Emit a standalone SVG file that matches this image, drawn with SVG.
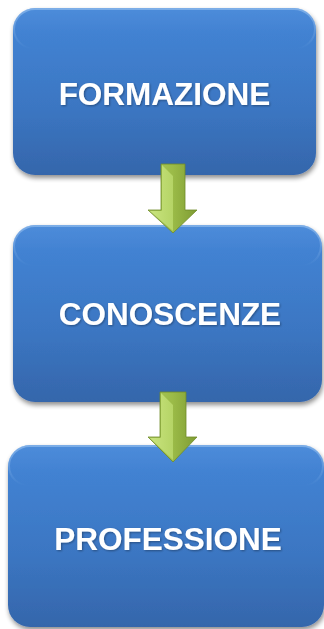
<svg xmlns="http://www.w3.org/2000/svg" width="324" height="629" viewBox="0 0 324 629">
<defs>
<linearGradient id="boxFill" x1="0" y1="0" x2="0" y2="1">
<stop offset="0" stop-color="#4d8cda"/>
<stop offset="0.15" stop-color="#4282d2"/>
<stop offset="0.6" stop-color="#3b76c2"/>
<stop offset="1" stop-color="#3566ab"/>
</linearGradient>
<linearGradient id="boxHi" x1="0" y1="0" x2="0" y2="1">
<stop offset="0" stop-color="#9cc4f0" stop-opacity="0.6"/>
<stop offset="1" stop-color="#9cc4f0" stop-opacity="0"/>
</linearGradient>
<linearGradient id="arrowFill" x1="0" y1="0" x2="1" y2="0">
<stop offset="0" stop-color="#a9c75a"/>
<stop offset="0.5" stop-color="#9bbb48"/>
<stop offset="1" stop-color="#7f9c33"/>
</linearGradient>
<linearGradient id="arrowLight" x1="0" y1="0" x2="1" y2="0">
<stop offset="0" stop-color="#c9e47e"/>
<stop offset="1" stop-color="#b5d466"/>
</linearGradient>
<filter id="shadow" x="-10%" y="-10%" width="120%" height="125%">
<feGaussianBlur in="SourceAlpha" stdDeviation="2.5"/>
<feOffset dx="1" dy="3" result="b"/>
<feComponentTransfer><feFuncA type="linear" slope="0.45"/></feComponentTransfer>
<feMerge><feMergeNode/><feMergeNode in="SourceGraphic"/></feMerge>
</filter>
<filter id="tshadow" x="-5%" y="-20%" width="110%" height="140%">
<feGaussianBlur in="SourceAlpha" stdDeviation="1"/>
<feOffset dx="1" dy="1"/>
<feComponentTransfer><feFuncA type="linear" slope="0.35"/></feComponentTransfer>
<feMerge><feMergeNode/><feMergeNode in="SourceGraphic"/></feMerge>
</filter>
</defs>
<style>
.box{fill:url(#boxFill);filter:url(#shadow);}
.hi{fill:none;stroke:url(#boxHi);stroke-width:2;}
.lbl{font-family:"Liberation Sans",Arial,sans-serif;font-weight:bold;font-size:31.5px;fill:#ffffff;text-anchor:middle;filter:url(#tshadow);}
.arr{fill:url(#arrowFill);stroke:#6f8c2a;stroke-width:0.8;}
.arrl{fill:url(#arrowLight);}
</style>
<g id="node-formazione">
<rect class="box" x="13" y="8" width="303" height="167" rx="22" ry="22"/>
<rect class="hi" x="14" y="9" width="301" height="40" rx="21" ry="21"/>
<text class="lbl" x="164.5" y="105">FORMAZIONE</text>
</g>
<g id="node-conoscenze">
<rect class="box" x="13" y="225" width="309" height="177" rx="22" ry="22"/>
<rect class="hi" x="14" y="226" width="307" height="40" rx="21" ry="21"/>
<text class="lbl" x="170" y="325">CONOSCENZE</text>
</g>
<g id="node-professione">
<rect class="box" x="8" y="445" width="316" height="182" rx="22" ry="22"/>
<rect class="hi" x="9" y="446" width="314" height="40" rx="21" ry="21"/>
<text class="lbl" x="168" y="550">PROFESSIONE</text>
</g>
<g id="connectors">
<g id="arrow-1">
<path class="arr" d="M161,164 H185 V210 H197 L173,233 L148,210 H161 Z"/>
<path class="arrl" d="M162,165 L173,176 V231 L150,211 H162 Z"/>
</g>
<g id="arrow-2">
<path class="arr" d="M160,392 H186 V437 H197 L173,462 L148,437 H160 Z"/>
<path class="arrl" d="M161,393 L173,405 V460 L150,438 H161 Z"/>
</g>
</g>
</svg>
